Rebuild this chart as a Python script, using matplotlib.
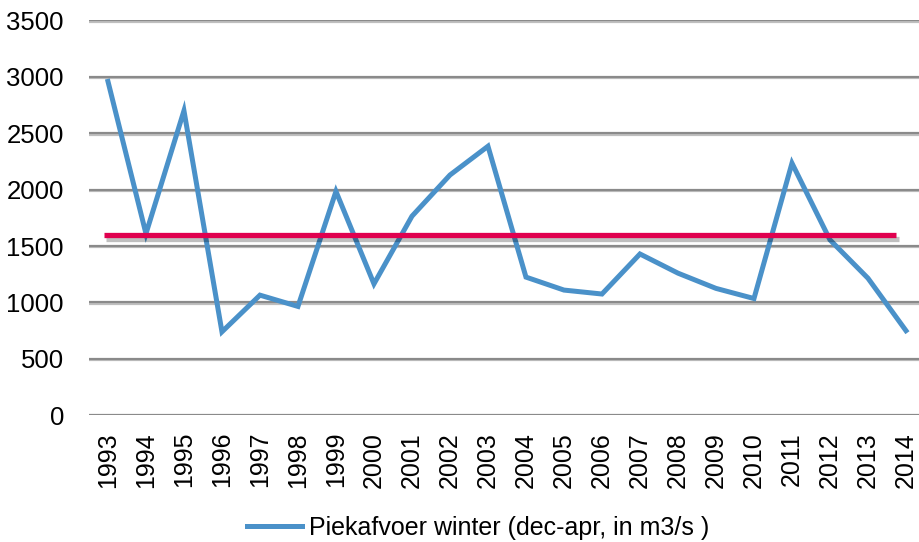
import numpy as np
import matplotlib.pyplot as plt
import matplotlib.patheffects as pe

# jaren en piekafvoer winter (dec-apr, m3/s)
jaren = [str(j) for j in range(1993, 2015)]
piekafvoer = [2960, 1610, 2700, 740, 1065, 965, 1985, 1165, 1765, 2130, 2385,
              1225, 1110, 1075, 1430, 1260, 1125, 1035, 2235, 1555, 1215, 750]
drempel = 1600
y_ticks = [0, 500, 1000, 1500, 2000, 2500, 3000, 3500]

plt.rcParams['font.family'] = ['Liberation Sans Narrow', 'Liberation Sans', 'DejaVu Sans']

fig = plt.figure(figsize=(9.19, 5.42), dpi=100)
ax = fig.add_axes([0.0968, 0.2338, 0.9097, 0.7284])

x = np.arange(len(jaren))

# horizontale gridlijnen
for yt in y_ticks:
    ax.axhline(yt, color='#8a8a8a', lw=1.6, zorder=1,
               path_effects=[pe.SimpleLineShadow(offset=(0, -1), alpha=0.25), pe.Normal()])

line, = ax.plot(x, piekafvoer, color='#4a91c9', lw=3.6, zorder=3,
                solid_joinstyle='miter', label='Piekafvoer winter (dec-apr, in m3/s )')

ax.hlines(drempel, -0.1, 20.75, color='#e0004f', lw=3.8, zorder=4,
          path_effects=[pe.SimpleLineShadow(offset=(1.5, -3), alpha=0.25), pe.Normal()])

ax.set_xlim(-0.5, len(jaren) - 0.5)
ax.set_ylim(0, 3500)
ax.set_yticks(y_ticks)
ax.set_yticklabels([str(v) for v in y_ticks], fontsize=18.5, family=['Liberation Sans', 'DejaVu Sans'])
ax.set_xticks(x)
ax.set_xticklabels(jaren, rotation=90, fontsize=18, family=['Liberation Sans', 'DejaVu Sans'])
ax.tick_params(axis='both', length=0)
ax.tick_params(axis='y', pad=18)
ax.tick_params(axis='x', pad=12)
for s in ax.spines.values():
    s.set_visible(False)

fig.legend(handles=[line], loc='center', bbox_to_anchor=(478 / 919, 1 - 528 / 542),
           frameon=False, fontsize=18, handlelength=2.2, handletextpad=0.3)

fig.savefig('out.png', dpi=100)
